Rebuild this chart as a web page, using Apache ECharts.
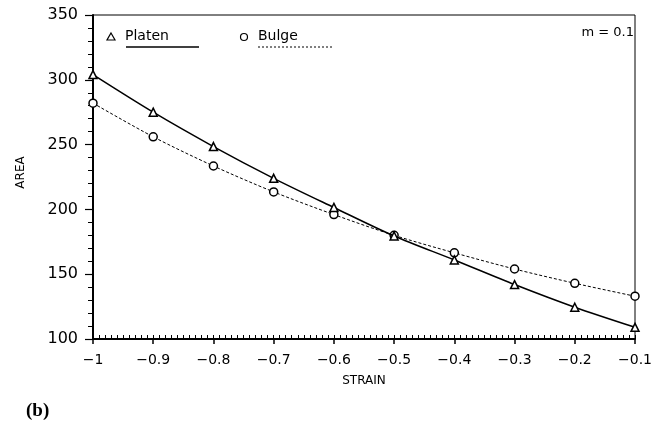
<!DOCTYPE html>
<html>
<head>
<meta charset="utf-8">
<script src="https://cdn.jsdelivr.net/npm/echarts@6/dist/echarts.min.js"></script>
<style>
  html, body { margin: 0; padding: 0; background: #fff; }
  #chart { width: 655px; height: 427px; }
</style>
</head>
<body>
<div id="chart"></div>
<script>
// Strain values along the x axis
var strain = [-1, -0.9, -0.8, -0.7, -0.6, -0.5, -0.4, -0.3, -0.2, -0.1];
// Area for the two friction/loading conditions
var platen = [304, 275, 248.5, 224, 201.5, 179.5, 161, 142, 124.5, 109];
var bulge  = [282, 256, 233.5, 213.5, 196, 180, 166.5, 154, 143, 133];
// Axis ticks
var xTicks = [-1, -0.9, -0.8, -0.7, -0.6, -0.5, -0.4, -0.3, -0.2, -0.1];
var yTicks = [100, 150, 200, 250, 300, 350];

var FONT = 'DejaVu Sans';

function pairs(xs, ys) {
  return xs.map(function (x, i) { return [x, ys[i]]; });
}
function fmtX(v) {
  var r = Math.round(v * 10) / 10;
  return (r < 0 ? '\u2212' : '') + String(Math.abs(r));
}

var chart = echarts.init(document.getElementById('chart'), null, { renderer: 'canvas' });

var grid = { left: 93, right: 19, top: 15, bottom: 88, show: true, borderColor: '#000', borderWidth: 1, backgroundColor: '#fff' };

chart.setOption({
  backgroundColor: '#fff',
  animation: false,
  grid: grid,
  xAxis: [
    {
      type: 'value', min: -1, max: -0.1, interval: 0.1,
      position: 'bottom',
      axisLine: { lineStyle: { color: '#000', width: 2 } },
      axisTick: { inside: true, length: 4, lineStyle: { color: '#000', width: 1 } },
      minorTick: { show: true, splitNumber: 10, length: 4, lineStyle: { color: '#000', width: 1 } },
      splitLine: { show: false },
      axisLabel: { show: false }
    },
    {
      type: 'value', min: -1, max: -0.1, interval: 0.1,
      position: 'bottom',
      name: 'STRAIN', nameLocation: 'middle', nameGap: 36,
      nameTextStyle: { fontFamily: FONT, fontSize: 12, color: '#000' },
      axisLine: { show: false },
      axisTick: { inside: false, length: 5, lineStyle: { color: '#000', width: 1.5 } },
      splitLine: { show: false },
      axisLabel: { margin: 14, fontFamily: FONT, fontSize: 14, color: '#000', formatter: fmtX }
    }
  ],
  yAxis: {
    type: 'value', min: yTicks[0], max: yTicks[yTicks.length - 1], interval: 50,
    name: 'AREA', nameLocation: 'middle', nameGap: 66,
    nameTextStyle: { fontFamily: FONT, fontSize: 12, color: '#000', padding: [0, 0, 0, 9] },
    axisLine: { lineStyle: { color: '#000', width: 2 } },
    axisTick: { inside: false, length: 8, lineStyle: { color: '#000', width: 1.2 } },
    minorTick: { show: true, splitNumber: 5, length: 5, lineStyle: { color: '#000', width: 1 } },
    splitLine: { show: false },
    axisLabel: { margin: 15, fontFamily: FONT, fontSize: 16, color: '#000' }
  },
  series: [
    {
      name: 'Platen', type: 'line', xAxisIndex: 0,
      data: pairs(strain, platen),
      smooth: 0.3,
      symbol: 'triangle', symbolSize: 8,
      itemStyle: { color: '#fff', borderColor: '#000', borderWidth: 1.5 },
      lineStyle: { color: '#000', width: 1.5 },
      z: 3
    },
    {
      name: 'Bulge', type: 'line', xAxisIndex: 0,
      data: pairs(strain, bulge),
      smooth: 0.3,
      symbol: 'circle', symbolSize: 8,
      itemStyle: { color: '#fff', borderColor: '#000', borderWidth: 1.5 },
      lineStyle: { color: '#000', width: 1, type: [3, 2] },
      z: 2
    }
  ],
  graphic: [
    // legend: Platen
    { type: 'polygon', shape: { points: [[111, 33], [115, 40], [107, 40]] },
      style: { fill: '#fff', stroke: '#000', lineWidth: 1.2 } },
    { type: 'text', left: 125, top: 29, style: { text: 'Platen', font: '14px "DejaVu Sans"', fill: '#000' } },
    { type: 'line', shape: { x1: 126, y1: 47, x2: 199, y2: 47 }, style: { stroke: '#000', lineWidth: 1.5 } },
    // legend: Bulge
    { type: 'circle', shape: { cx: 244, cy: 37, r: 3.5 }, style: { fill: '#fff', stroke: '#000', lineWidth: 1.2 } },
    { type: 'text', left: 258, top: 29, style: { text: 'Bulge', font: '14px "DejaVu Sans"', fill: '#000' } },
    { type: 'line', shape: { x1: 258, y1: 47, x2: 333, y2: 47 }, style: { stroke: '#000', lineWidth: 1, lineDash: [2, 2] } },
    // parameter note
    { type: 'text', right: 21, top: 26, style: { text: 'm = 0.1', font: '13px "DejaVu Sans"', fill: '#000' } },
    // panel label
    { type: 'text', left: 26, top: 402, style: { text: '(b)', font: 'bold 19px "Liberation Serif"', fill: '#000' } }
  ]
});
</script>
</body>
</html>
